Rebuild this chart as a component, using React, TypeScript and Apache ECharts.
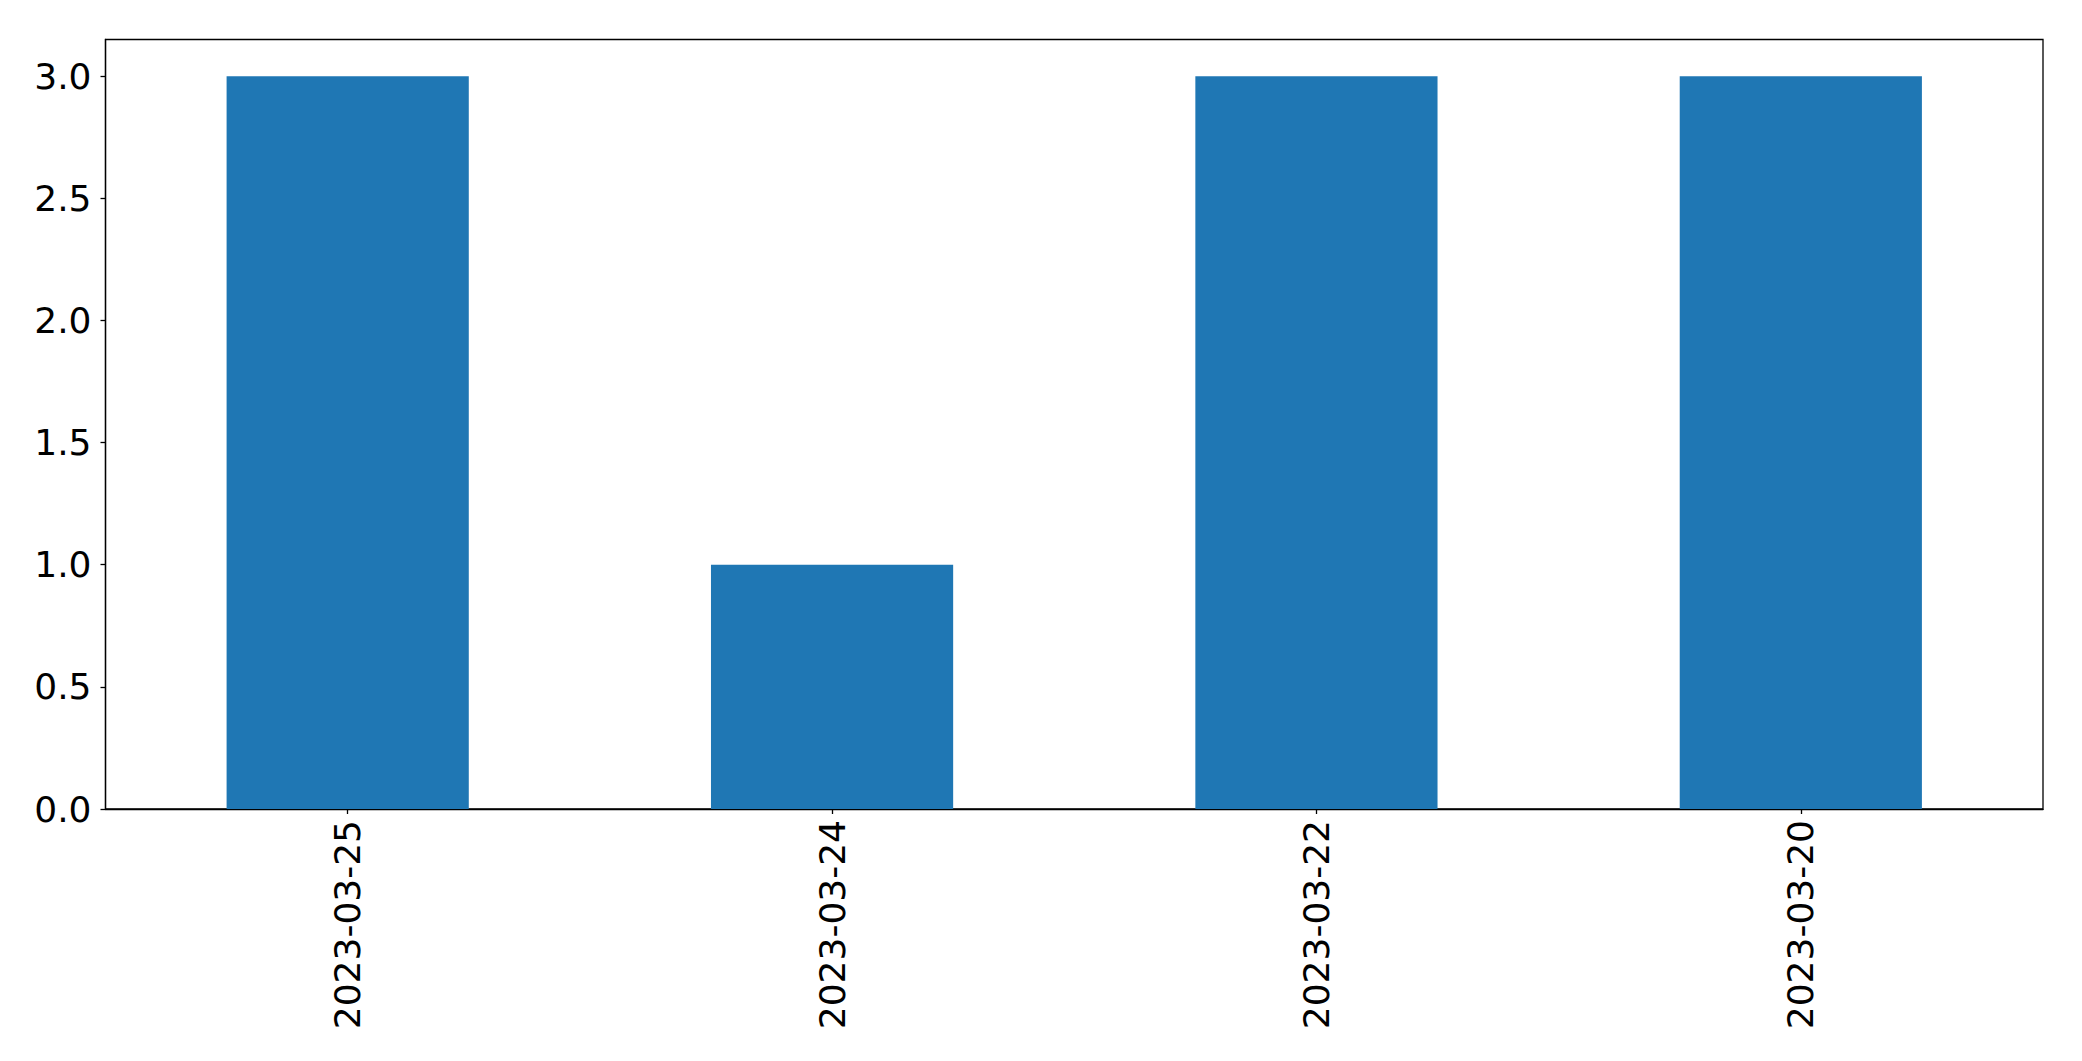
import React, { useEffect, useRef } from "react";
import * as echarts from "echarts";

const categories = ["2023-03-25", "2023-03-24", "2023-03-22", "2023-03-20"];
const values = [3, 1, 3, 3];
const yMin = 0;
const yMax = 3.15;
const yInterval = 0.5;

export default function App() {
  const ref = useRef<HTMLDivElement>(null);
  useEffect(() => {
    if (!ref.current) return;
    const chart = echarts.init(ref.current, null, { renderer: "svg" });
    const font = "DejaVu Sans";
    chart.setOption({
      animation: false,
      backgroundColor: "#ffffff",
      grid: {
        left: 105.5,
        top: 39.5,
        right: 39,
        bottom: 252,
        show: true,
        borderColor: "#000000",
        borderWidth: 1.3,
        backgroundColor: "transparent",
        containLabel: false,
      },
      xAxis: {
        type: "category",
        data: categories,
        axisLine: { show: true, lineStyle: { color: "#000000", width: 1.3 } },
        axisTick: { show: true, alignWithLabel: true, length: 5, lineStyle: { color: "#000000", width: 1.3 } },
        axisLabel: {
          rotate: 90,
          margin: 11,
          color: "#000000",
          fontFamily: font,
          fontSize: 36,
        },
        splitLine: { show: false },
      },
      yAxis: {
        type: "value",
        min: yMin,
        max: yMax,
        interval: yInterval,
        axisLine: { show: true, lineStyle: { color: "#000000", width: 1.3 } },
        axisTick: { show: true, length: 5, lineStyle: { color: "#000000", width: 1.3 } },
        axisLabel: {
          margin: 14,
          color: "#000000",
          fontFamily: font,
          fontSize: 36,
          showMaxLabel: false,
          formatter: (v: number) => {
            const r = Math.round(v / yInterval) * yInterval;
            return Math.abs(r - v) < 1e-9 ? v.toFixed(1) : "";
          },
        },
        splitLine: { show: false },
      },
      series: [
        {
          type: "bar",
          data: values,
          barWidth: "50%",
          itemStyle: { color: "#1f77b4" },
        },
      ],
    });
    return () => chart.dispose();
  }, []);
  return (
    <div
      ref={ref}
      style={{ position: "fixed", left: 0, top: 0, width: 2082, height: 1061 }}
    />
  );
}
